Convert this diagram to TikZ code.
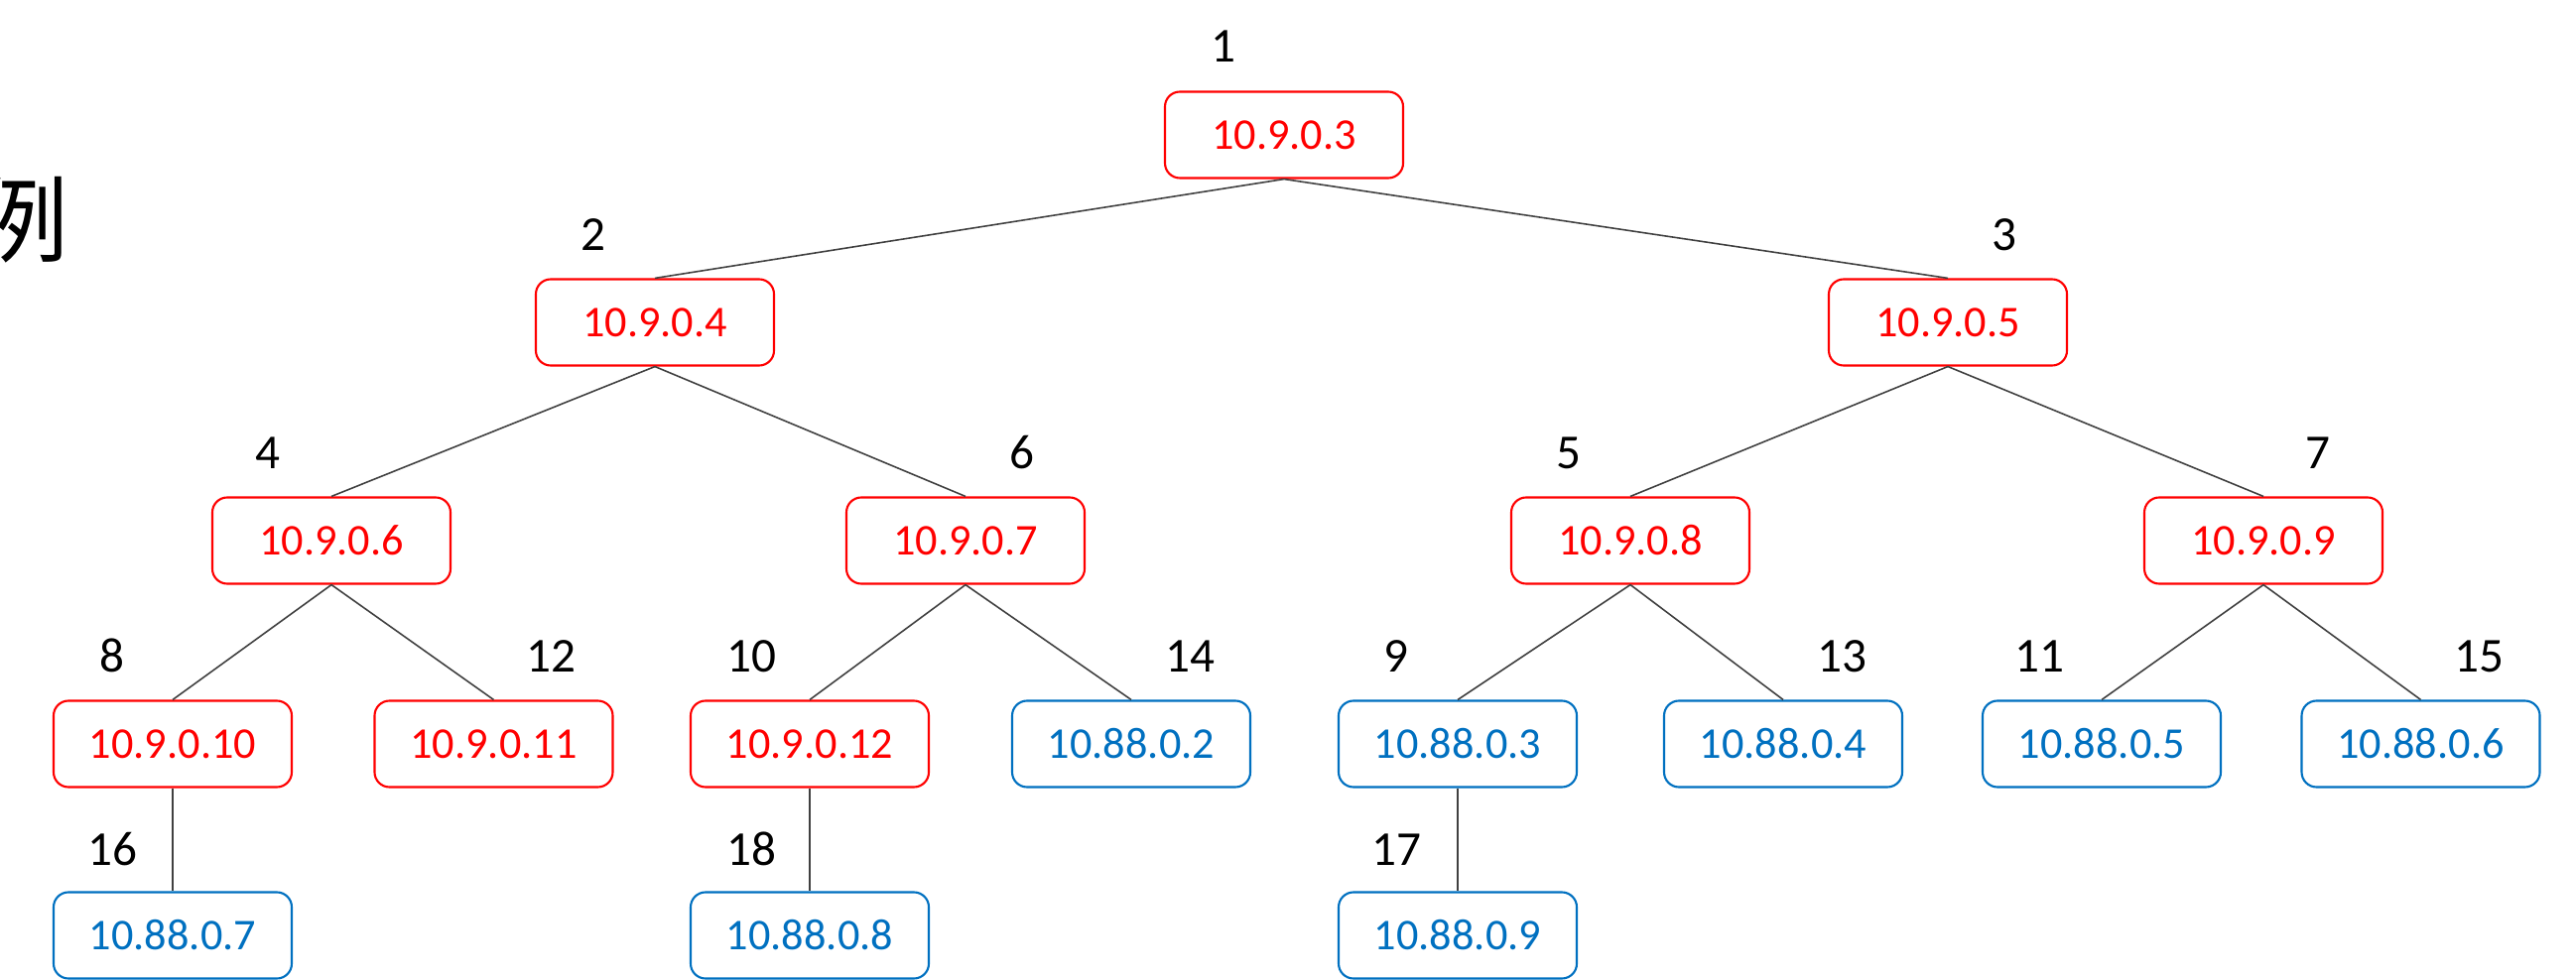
\documentclass[tikz,border=0pt]{standalone}
\usepackage{fontspec}
\setmainfont{Carlito}
\newfontfamily\cjk{Noto Sans CJK SC}
\definecolor{ipred}{RGB}{255,0,0}
\definecolor{ipblue}{RGB}{0,112,192}
\definecolor{linkgray}{RGB}{64,64,64}
\begin{document}
\begin{tikzpicture}[
  box/.style={draw, rounded corners=0.15cm, minimum width=2.4cm, minimum height=0.87cm, inner sep=0pt, line width=0.6pt, font=\fontsize{12.6pt}{14pt}\selectfont},
  redbox/.style={box, draw=ipred, text=ipred},
  bluebox/.style={box, draw=ipblue, text=ipblue},
  num/.style={anchor=base, inner sep=0pt, font=\fontsize{14pt}{16pt}\selectfont},
  link/.style={draw=linkgray, line width=0.45pt}
]
\useasboundingbox (0,0) rectangle (25.96,-9.88);

\node [anchor=base east, inner sep=0pt, font=\cjk\fontsize{27pt}{30pt}\selectfont] (title) at (0.70,-2.58) {例};

\node [redbox] (v1) at (12.94,-1.36) {10.9.0.3};
\node [redbox] (v2) at (6.60,-3.25) {10.9.0.4};
\node [redbox] (v3) at (19.63,-3.25) {10.9.0.5};
\node [redbox] (v4) at (3.34,-5.45) {10.9.0.6};
\node [redbox] (v6) at (9.73,-5.45) {10.9.0.7};
\node [redbox] (v5) at (16.43,-5.45) {10.9.0.8};
\node [redbox] (v7) at (22.81,-5.45) {10.9.0.9};
\node [redbox] (v8) at (1.74,-7.50) {10.9.0.10};
\node [redbox] (v12) at (4.975,-7.50) {10.9.0.11};
\node [redbox] (v10) at (8.16,-7.50) {10.9.0.12};
\node [bluebox] (v14) at (11.40,-7.50) {10.88.0.2};
\node [bluebox] (v9) at (14.69,-7.50) {10.88.0.3};
\node [bluebox] (v13) at (17.97,-7.50) {10.88.0.4};
\node [bluebox] (v11) at (21.18,-7.50) {10.88.0.5};
\node [bluebox] (v15) at (24.395,-7.50) {10.88.0.6};
\node [bluebox] (v16) at (1.74,-9.43) {10.88.0.7};
\node [bluebox] (v18) at (8.16,-9.43) {10.88.0.8};
\node [bluebox] (v17) at (14.69,-9.43) {10.88.0.9};

\node [num] (l1) at (12.33,-0.63) {1};
\node [num] (l2) at (5.98,-2.53) {2};
\node [num] (l3) at (20.20,-2.53) {3};
\node [num] (l4) at (2.70,-4.73) {4};
\node [num] (l6) at (10.30,-4.73) {6};
\node [num] (l5) at (15.81,-4.73) {5};
\node [num] (l7) at (23.36,-4.73) {7};
\node [num] (l8) at (1.13,-6.77) {8};
\node [num] (l12) at (5.55,-6.77) {12};
\node [num] (l10) at (7.57,-6.77) {10};
\node [num] (l14) at (11.99,-6.77) {14};
\node [num] (l9) at (14.07,-6.77) {9};
\node [num] (l13) at (18.56,-6.77) {13};
\node [num] (l11) at (20.55,-6.77) {11};
\node [num] (l15) at (24.98,-6.77) {15};
\node [num] (l16) at (1.13,-8.72) {16};
\node [num] (l18) at (7.57,-8.72) {18};
\node [num] (l17) at (14.07,-8.72) {17};

\draw [link] (v1.south) edge (v2.north);
\draw [link] (v1.south) edge (v3.north);
\draw [link] (v2.south) edge (v4.north);
\draw [link] (v2.south) edge (v6.north);
\draw [link] (v3.south) edge (v5.north);
\draw [link] (v3.south) edge (v7.north);
\draw [link] (v4.south) edge (v8.north);
\draw [link] (v4.south) edge (v12.north);
\draw [link] (v6.south) edge (v10.north);
\draw [link] (v6.south) edge (v14.north);
\draw [link] (v5.south) edge (v9.north);
\draw [link] (v5.south) edge (v13.north);
\draw [link] (v7.south) edge (v11.north);
\draw [link] (v7.south) edge (v15.north);
\draw [link] (v8.south) edge (v16.north);
\draw [link] (v10.south) edge (v18.north);
\draw [link] (v9.south) edge (v17.north);
\end{tikzpicture}
\end{document}
